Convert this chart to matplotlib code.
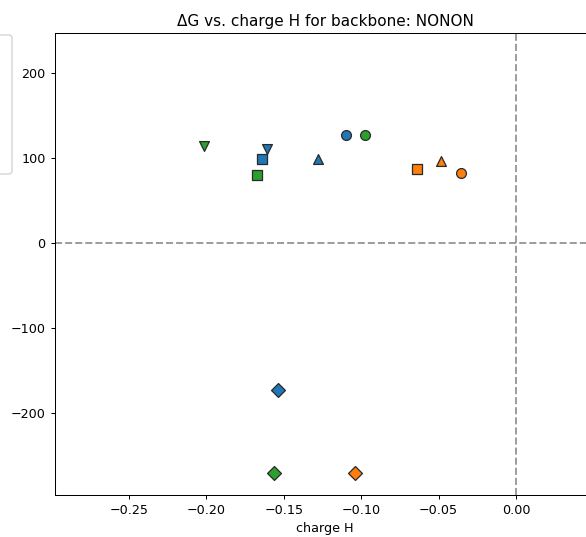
import matplotlib
matplotlib.use('Agg')
import matplotlib.pyplot as plt
from matplotlib.patches import FancyBboxPatch

# charge on H and ΔG for each substituent group (one colour per group)
blue_x = [-0.1099, -0.1278, -0.1608, -0.1640, -0.1534]
blue_y = [127, 98.5, 110, 99, -173]
blue_m = ['o', '^', 'v', 's', 'D']

orange_x = [-0.0354, -0.0485, -0.0640, -0.1041]
orange_y = [82, 97, 87, -271]
orange_m = ['o', '^', 's', 'D']

green_x = [-0.0974, -0.2017, -0.1672, -0.1566]
green_y = [127, 114, 79.6, -271]
green_m = ['o', 'v', 's', 'D']

backbone = 'NONON'

dpi = 91.4
fig = plt.figure(figsize=(586 / dpi, 537 / dpi), dpi=dpi)
ax = fig.add_axes([0.0932, 0.0782, 0.9228, 0.8598])

groups = [
    (blue_x, blue_y, blue_m, 'tab:blue'),
    (orange_x, orange_y, orange_m, 'tab:orange'),
    (green_x, green_y, green_m, 'tab:green'),
]
for xs, ys, ms, c in groups:
    for x, y, m in zip(xs, ys, ms):
        ax.scatter(x, y, marker=m, s=60, color=c, edgecolors='#2a2a2a',
                   linewidths=1.0, zorder=3)

ax.axhline(0, color='grey', linestyle='--', linewidth=1.5, alpha=0.8)
ax.axvline(0, color='grey', linestyle='--', linewidth=1.5, alpha=0.8)

ax.set_xlim(-0.298, 0.0513)
ax.set_ylim(-296.5, 246.7)
ax.set_xticks([-0.25, -0.20, -0.15, -0.10, -0.05, 0.00])
ax.set_yticks([-200, -100, 0, 100, 200])
ax.set_xlabel('charge H')
ax.set_title('ΔG vs. charge H for backbone: ' + backbone)

# legend frame sitting off to the left of the axes
frame = FancyBboxPatch((-100 / 586, 1 - 174 / 537), 112 / 586, 139 / 537,
                       boxstyle='round,pad=0,rounding_size=0.006',
                       transform=fig.transFigure, facecolor='white',
                       edgecolor='#d0d0d0', linewidth=1.0)
fig.patches.append(frame)

fig.savefig('out.png', dpi=dpi)
